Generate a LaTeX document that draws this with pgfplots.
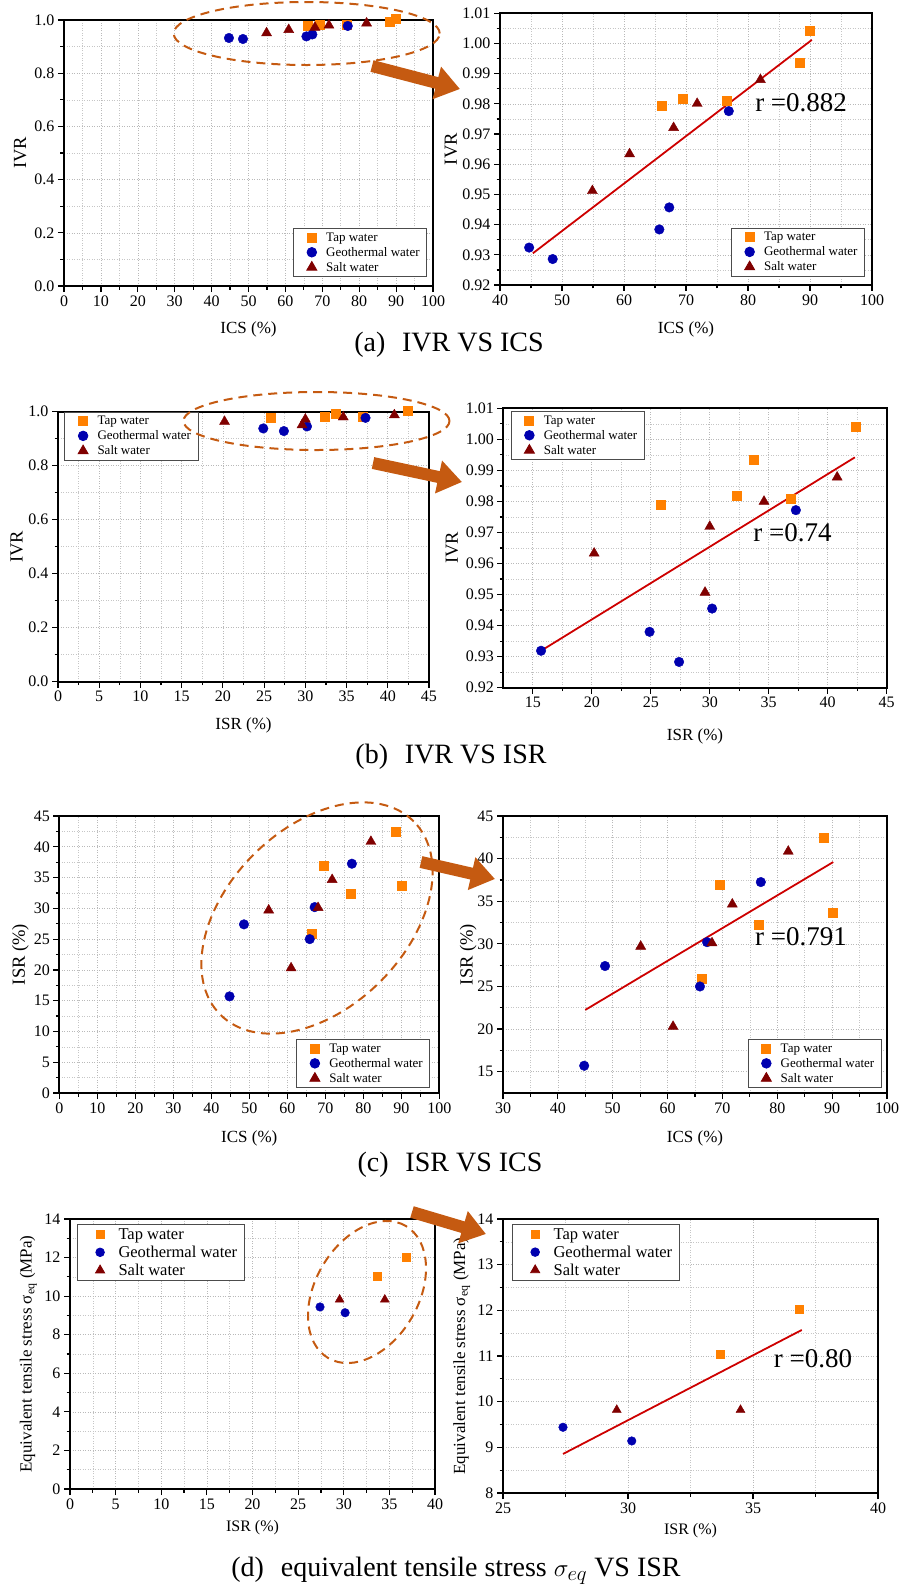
\documentclass[border=0pt]{standalone}
\usepackage{fontspec}
\setmainfont{Liberation Serif}
\usepackage{pgfplots}
\usepackage{pgfplotstable}
\pgfplotsset{compat=1.18}
\usetikzlibrary{arrows.meta}

\definecolor{tapc}{RGB}{255,128,0}
\definecolor{geoc}{RGB}{0,0,175}
\definecolor{saltc}{RGB}{128,0,0}
\definecolor{fitc}{RGB}{205,0,0}
\definecolor{annc}{RGB}{197,90,17}

% (a) ICS vs IVR
\pgfplotstableread{
x y
66.1 0.9795
69.4 0.9818
76.5 0.9812
88.3 0.9935
89.9 1.0043
}\tapA
\pgfplotstableread{
x y
44.7 0.9324
48.5 0.9286
65.7 0.9384
67.3 0.9457
76.9 0.9776
}\geoA
\pgfplotstableread{
x y
54.9 0.9512
60.9 0.9634
68.0 0.9721
71.8 0.9801
82.0 0.9880
}\saltA
% (b) ISR vs IVR
\pgfplotstableread{
x y
25.8 0.9791
32.3 0.9818
33.7 0.9934
36.9 0.9810
42.4 1.0040
}\tapB
\pgfplotstableread{
x y
15.7 0.9319
24.9 0.9380
27.4 0.9283
30.2 0.9455
37.3 0.9772
}\geoB
\pgfplotstableread{
x y
20.2 0.9633
29.6 0.9507
30.0 0.9719
34.6 0.9800
40.8 0.9878
}\saltB
% (c) ICS vs ISR
\pgfplotstableread{
x y
69.5 36.9
66.3 25.9
76.6 32.3
88.4 42.4
90.1 33.7
}\tapC
\pgfplotstableread{
x y
44.8 15.7
48.6 27.4
65.9 25.0
67.2 30.2
77.0 37.25
}\geoC
\pgfplotstableread{
x y
55.1 29.7
61.0 20.3
68.1 30.1
71.8 34.65
82.0 40.85
}\saltC
% (d) ISR vs sigma_eq
\pgfplotstableread{
x y
33.7 11.05
36.85 12.02
}\tapD
\pgfplotstableread{
x y
27.4 9.44
30.15 9.14
}\geoD
\pgfplotstableread{
x y
29.55 9.82
34.5 9.82
}\saltD

\tikzset{rlab/.style={font=\fontsize{27}{29}\selectfont, anchor=west}}
\def\legmark{13pt}
\def\legwid{25pt}

\pgfplotsset{
  panel/.style={
    scale only axis, anchor=north west, clip=false,
    axis line style={line width=2pt},
    tick align=outside, xtick pos=bottom, ytick pos=left,
    major tick length=6pt, minor tick length=3.5pt,
    every tick/.style={black, line width=1.2pt},
    minor x tick num=1, minor y tick num=1,
    grid=both,
    major grid style={gray!55, line width=0.6pt, dash pattern=on 1pt off 1.5pt},
    minor grid style={gray!45, line width=0.6pt, dash pattern=on 1pt off 1.5pt},
    tick label style={font=\fontsize{16}{18}\selectfont},
    /pgf/number format/assume math mode=true,
    xlabel style={font=\fontsize{17}{19}\selectfont, anchor=center},
    ylabel style={font=\fontsize{18.5}{20}\selectfont, anchor=center},
    legend style={draw=gray!60!black, line width=0.8pt, font=\fontsize{13}{15}\selectfont,
      inner xsep=5pt, inner ysep=2pt, row sep=0.5pt, cells={anchor=west}},
    legend cell align=left,
  },
  legimg/.style={legend image code/.code={\path (0pt,0pt) (\legwid,0pt);
      \draw[##1] plot coordinates {(\legmark,0pt)};}},
  tap/.style={only marks, mark=square*, mark size=4.5pt, color=tapc, legimg},
  geo/.style={only marks, mark=*, mark size=4.8pt, color=geoc, legimg},
  salt/.style={only marks, mark=triangle*, mark size=5.8pt, color=saltc, legimg},
  fit/.style={fitc, line width=1.8pt, no marks, forget plot},
  ivrticks/.style={yticklabel style={/pgf/number format/.cd, fixed, fixed zerofill, precision=1}},
  ivrzoom/.style={ymin=0.92, ymax=1.01, ytick={0.92,0.93,...,1.011},
    yticklabel style={/pgf/number format/.cd, fixed, fixed zerofill, precision=2}},
}

\begin{document}
\begin{tikzpicture}
\useasboundingbox (0pt,0pt) rectangle (907pt,-1588pt);

%================ (a) left
\begin{axis}[panel, at={(64pt,-20pt)}, width=369pt, height=266pt,
  xmin=0, xmax=100, xtick={0,10,...,100},
  ymin=0, ymax=1, ytick={0,0.2,...,1.01}, ivrticks,
  xlabel={ICS (\%)}, ylabel={IVR},
  xlabel style={at={(axis description cs:0.5,-0.162)}},
  ylabel style={at={(axis description cs:-0.119,0.5)}},
  legend style={at={(0.984,0.034)}, anchor=south east}]
\addplot[tap] table {\tapA};
\addplot[geo] table {\geoA};
\addplot[salt] table {\saltA};
\legend{Tap water, Geothermal water, Salt water}
\end{axis}

%================ (a) right
\begin{axis}[panel, at={(500pt,-13.3pt)}, width=372pt, height=271.7pt,
  xmin=40, xmax=100, xtick={40,50,...,100}, ivrzoom,
  xlabel={ICS (\%)}, ylabel={IVR},
  xlabel style={at={(axis description cs:0.5,-0.162)}},
  ylabel style={at={(axis description cs:-0.132,0.5)}},
  legend style={at={(0.981,0.031)}, anchor=south east}]
\addplot[tap] table {\tapA};
\addplot[geo] table {\geoA};
\addplot[salt] table {\saltA};
\legend{Tap water, Geothermal water, Salt water}
\addplot[fit] coordinates {(45.3,0.9305) (90.3,1.0012)};
\node[rlab] at (axis cs:80.6,0.9805) {r =0.882};
\end{axis}

%================ (b) left
\begin{axis}[panel, at={(58pt,-411.7pt)}, width=371pt, height=270pt,
  xmin=0, xmax=45, xtick={0,5,...,45},
  ymin=0, ymax=1, ytick={0,0.2,...,1.01}, ivrticks,
  xlabel={ISR (\%)}, ylabel={IVR},
  xlabel style={at={(axis description cs:0.5,-0.160)}},
  ylabel style={at={(axis description cs:-0.111,0.5)}},
  legend style={at={(0.017,1.0)}, anchor=north west}]
\addplot[tap] table {\tapB};
\addplot[geo] table {\geoB};
\addplot[salt] table {\saltB};
\legend{Tap water, Geothermal water, Salt water}
\end{axis}

%================ (b) right
\begin{axis}[panel, at={(503.3pt,-408.3pt)}, width=383.4pt, height=279.4pt,
  xmin=12.5, xmax=45, xtick={15,20,...,45}, ivrzoom,
  xlabel={ISR (\%)}, ylabel={IVR},
  xlabel style={at={(axis description cs:0.5,-0.175)}},
  ylabel style={at={(axis description cs:-0.134,0.5)}},
  legend style={at={(0.019,0.990)}, anchor=north west}]
\addplot[tap] table {\tapB};
\addplot[geo] table {\geoB};
\addplot[salt] table {\saltB};
\legend{Tap water, Geothermal water, Salt water}
\addplot[fit] coordinates {(15.7,0.9319) (42.3,0.9942)};
\node[rlab] at (axis cs:33.4,0.9699) {r =0.74};
\end{axis}

%================ (c) left
\begin{axis}[panel, at={(59.3pt,-816pt)}, width=380pt, height=277pt,
  xmin=0, xmax=100, xtick={0,10,...,100},
  ymin=0, ymax=45, ytick={0,5,...,45},
  xlabel={ICS (\%)}, ylabel={ISR (\%)},
  xlabel style={at={(axis description cs:0.5,-0.164)}},
  ylabel style={at={(axis description cs:-0.102,0.5)}},
  legend style={at={(0.976,0.018)}, anchor=south east}]
\addplot[tap] table {\tapC};
\addplot[geo] table {\geoC};
\addplot[salt] table {\saltC};
\legend{Tap water, Geothermal water, Salt water}
\end{axis}

%================ (c) right
\begin{axis}[panel, at={(503pt,-816pt)}, width=384pt, height=277pt,
  xmin=30, xmax=100, xtick={30,40,...,100},
  ymin=12.5, ymax=45, ytick={15,20,...,45},
  xlabel={ICS (\%)}, ylabel={ISR (\%)},
  xlabel style={at={(axis description cs:0.5,-0.164)}},
  ylabel style={at={(axis description cs:-0.091,0.5)}},
  legend style={at={(0.986,0.018)}, anchor=south east}]
\addplot[tap] table {\tapC};
\addplot[geo] table {\geoC};
\addplot[salt] table {\saltC};
\legend{Tap water, Geothermal water, Salt water}
\addplot[fit] coordinates {(45.0,22.25) (90.2,39.6)};
\node[rlab] at (axis cs:75.3,30.8) {r =0.791};
\end{axis}

\def\legmark{17pt}
\def\legwid{33pt}
%================ (d) left
\begin{axis}[panel, at={(70pt,-1219pt)}, width=365pt, height=270pt,
  xmin=0, xmax=40, xtick={0,5,...,40},
  ymin=0, ymax=14, ytick={0,2,...,14},
  xlabel={ISR (\%)}, ylabel={Equivalent tensile stress σ\textsubscript{eq} (MPa)},
  xlabel style={at={(axis description cs:0.5,-0.142)}, font=\fontsize{16}{18}\selectfont},
  ylabel style={at={(axis description cs:-0.114,0.5)}, font=\fontsize{17}{19}\selectfont},
  legend style={at={(0.02,0.981)}, anchor=north west, font=\fontsize{16.5}{19}\selectfont, row sep=1pt},
  tap/.append style={mark size=4pt}, geo/.append style={mark size=4.3pt}, salt/.append style={mark size=5.2pt}]
\addplot[tap] table {\tapD};
\addplot[geo] table {\geoD};
\addplot[salt] table {\saltD};
\legend{Tap water, Geothermal water, Salt water}
\end{axis}

%================ (d) right
\begin{axis}[panel, at={(503pt,-1219pt)}, width=375pt, height=274pt,
  xmin=25, xmax=40, xtick={25,30,...,40},
  ymin=8, ymax=14, ytick={8,9,...,14},
  xlabel={ISR (\%)}, ylabel={Equivalent tensile stress σ\textsubscript{eq} (MPa)},
  xlabel style={at={(axis description cs:0.5,-0.138)}, font=\fontsize{16}{18}\selectfont},
  ylabel style={at={(axis description cs:-0.110,0.5)}, font=\fontsize{17}{19}\selectfont},
  legend style={at={(0.025,0.982)}, anchor=north west, font=\fontsize{16.5}{19}\selectfont, row sep=1pt},
  tap/.append style={mark size=4pt}, geo/.append style={mark size=4.3pt}, salt/.append style={mark size=5.2pt}]
\addplot[tap] table {\tapD};
\addplot[geo] table {\geoD};
\addplot[salt] table {\saltD};
\legend{Tap water, Geothermal water, Salt water}
\addplot[fit] coordinates {(27.4,8.855) (36.95,11.57)};
\node[rlab] at (axis cs:35.69,10.95) {r =0.80};
\end{axis}

%================ annotations
\begin{scope}[annc, line width=2pt, dash pattern=on 9pt off 6pt]
\draw (306.7pt,-33.5pt) ellipse [x radius=133pt, y radius=31.5pt];
\draw (316.5pt,-421pt) ellipse [x radius=133pt, y radius=29pt];
\draw[rotate around={45:(317pt,-918pt)}] (317pt,-918pt) ellipse [x radius=136.7pt, y radius=89.7pt];
\draw[rotate around={59.6:(367pt,-1292pt)}] (367pt,-1292pt) ellipse [x radius=76.6pt, y radius=51.6pt];
\end{scope}
\begin{scope}[annc, line width=12pt, -{Triangle[width=32pt,length=24pt]}]
\draw (372pt,-66pt) -- (460pt,-89pt);
\draw (373pt,-463pt) -- (462pt,-482pt);
\draw (421pt,-862pt) -- (495pt,-879pt);
\draw (412pt,-1212pt) -- (486pt,-1234pt);
\end{scope}

%================ captions
\begin{scope}[font=\fontsize{28}{30}\selectfont]
\node at (449pt,-345pt) {(a)\hspace{0.6em}IVR VS ICS};
\node at (451pt,-756.7pt) {(b)\hspace{0.6em}IVR VS ISR};
\node at (450pt,-1165pt) {(c)\hspace{0.6em}ISR VS ICS};
\node at (456pt,-1571pt) {(d)\hspace{0.6em}equivalent tensile stress $\sigma_{eq}$ VS ISR};
\end{scope}
\end{tikzpicture}
\end{document}
